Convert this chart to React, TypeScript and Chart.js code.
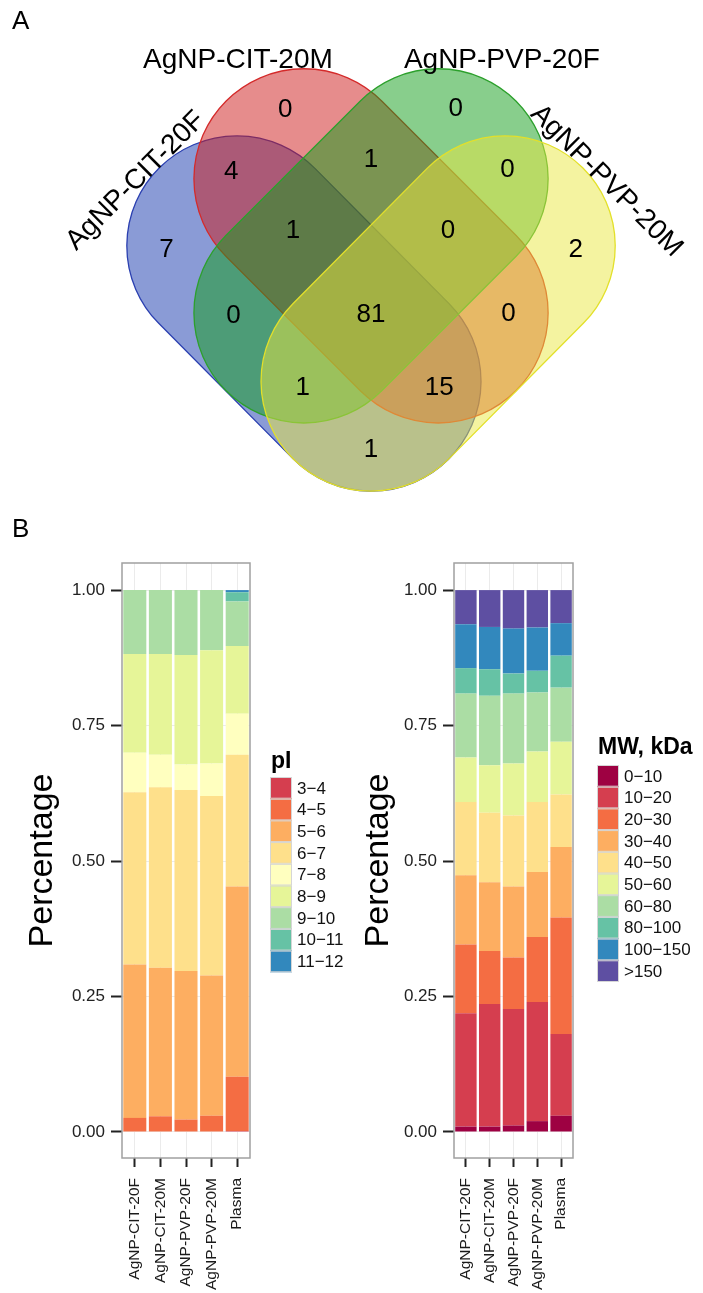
import React, { useEffect, useRef } from "react";
import { Chart, registerables } from "chart.js";
Chart.register(...registerables);

const FONT = '"Liberation Sans", Arial, Helvetica, sans-serif';

// ---------- Venn (panel A) ----------
const SET_NAMES = ["AgNP-CIT-20F", "AgNP-CIT-20M", "AgNP-PVP-20F", "AgNP-PVP-20M"];
const SET_FILLS = ["rgba(21,55,173,0.5)", "rgba(205,25,25,0.5)", "rgba(17,157,25,0.5)", "rgba(233,231,65,0.5)"];
const SET_LINES = ["#2a3fb0", "#d42a2a", "#2ca02c", "#e3e02a"];
// capsule spine end points (x1, y1, x2, y2), unit radius
const SET_SPINE_X1 = [-1.22, -0.61, 0.61, 1.22];
const SET_SPINE_Y1 = [0.31, 0.92, 0.92, 0.31];
const SET_SPINE_X2 = [0.0, 0.61, -0.61, 0.0];
const SET_SPINE_Y2 = [-0.92, -0.3, -0.3, -0.92];
const SET_RADIUS = 1;
const SET_LABEL_X = [-2.14, -1.21, 1.19, 2.14];
const SET_LABEL_Y = [0.9, 2.0, 2.0, 0.9];
const SET_LABEL_ROT = [-45, 0, 0, 45];

const VENN_COUNTS = [0, 0, 4, 1, 0, 7, 1, 0, 2, 0, 81, 0, 1, 15, 1];
const VENN_X = [-0.78, 0.77, -1.27, 0.0, 1.24, -1.86, -0.71, 0.7, 1.86, -1.25, 0.0, 1.25, -0.62, 0.62, 0.0];
const VENN_Y = [1.55, 1.56, 0.98, 1.09, 1.0, 0.27, 0.445, 0.445, 0.27, -0.33, -0.32, -0.31, -0.98, -0.98, -1.545];

// ---------- Bars (panel B) ----------
const SAMPLES = ["AgNP-CIT-20F", "AgNP-CIT-20M", "AgNP-PVP-20F", "AgNP-PVP-20M", "Plasma"];
const Y_TICKS = [0, 0.25, 0.5, 0.75, 1.0];

const PI_BINS = ["3−4", "4−5", "5−6", "6−7", "7−8", "8−9", "9−10", "10−11", "11−12"];
const PI_COLORS = ["#D53E4F", "#F46D43", "#FDAE61", "#FEE08B", "#FFFFBF", "#E6F598", "#ABDDA4", "#66C2A5", "#3288BD"];
const PI_3_4 = [0, 0, 0, 0, 0.002];
const PI_4_5 = [0.026, 0.029, 0.023, 0.03, 0.1];
const PI_5_6 = [0.283, 0.274, 0.274, 0.259, 0.351];
const PI_6_7 = [0.318, 0.333, 0.334, 0.331, 0.243];
const PI_7_8 = [0.073, 0.06, 0.047, 0.06, 0.076];
const PI_8_9 = [0.182, 0.186, 0.202, 0.209, 0.125];
const PI_9_10 = [0.118, 0.118, 0.12, 0.111, 0.082];
const PI_10_11 = [0, 0, 0, 0, 0.017];
const PI_11_12 = [0, 0, 0, 0, 0.004];
const PI_VALUES = [PI_3_4, PI_4_5, PI_5_6, PI_6_7, PI_7_8, PI_8_9, PI_9_10, PI_10_11, PI_11_12];

const MW_BINS = ["0−10", "10−20", "20−30", "30−40", "40−50", "50−60", "60−80", "80−100", "100−150", ">150"];
const MW_COLORS = ["#9E0142", "#D53E4F", "#F46D43", "#FDAE61", "#FEE08B", "#E6F598", "#ABDDA4", "#66C2A5", "#3288BD", "#5E4FA2"];
const MW_0_10 = [0.01, 0.01, 0.012, 0.02, 0.03];
const MW_10_20 = [0.209, 0.226, 0.215, 0.22, 0.151];
const MW_20_30 = [0.127, 0.098, 0.095, 0.12, 0.215];
const MW_30_40 = [0.128, 0.127, 0.131, 0.12, 0.13];
const MW_40_50 = [0.135, 0.128, 0.131, 0.129, 0.097];
const MW_50_60 = [0.082, 0.088, 0.096, 0.093, 0.097];
const MW_60_80 = [0.118, 0.128, 0.129, 0.109, 0.1];
const MW_80_100 = [0.047, 0.049, 0.037, 0.04, 0.059];
const MW_100_150 = [0.081, 0.078, 0.083, 0.08, 0.06];
const MW_GT150 = [0.063, 0.068, 0.071, 0.069, 0.061];
const MW_VALUES = [MW_0_10, MW_10_20, MW_20_30, MW_30_40, MW_40_50, MW_50_60, MW_60_80, MW_80_100, MW_100_150, MW_GT150];

function vennConfig(): any {
  const vennPlugin = {
    id: "vennShapes",
    beforeDatasetsDraw(chart: any) {
      const { ctx, scales } = chart;
      const sx = scales.x, sy = scales.y;
      const unit = sx.getPixelForValue(1) - sx.getPixelForValue(0);
      for (let i = 0; i < SET_NAMES.length; i++) {
        const ax = sx.getPixelForValue(SET_SPINE_X1[i]);
        const ay = sy.getPixelForValue(SET_SPINE_Y1[i]);
        const bx = sx.getPixelForValue(SET_SPINE_X2[i]);
        const by = sy.getPixelForValue(SET_SPINE_Y2[i]);
        const th = Math.atan2(by - ay, bx - ax);
        const r = SET_RADIUS * unit;
        ctx.save();
        ctx.beginPath();
        ctx.arc(bx, by, r, th - Math.PI / 2, th + Math.PI / 2);
        ctx.arc(ax, ay, r, th + Math.PI / 2, th + (3 * Math.PI) / 2);
        ctx.closePath();
        ctx.fillStyle = SET_FILLS[i];
        ctx.fill();
        ctx.lineWidth = 1.3;
        ctx.strokeStyle = SET_LINES[i];
        ctx.stroke();
        ctx.restore();
      }
    },
    afterDatasetsDraw(chart: any) {
      const { ctx, scales } = chart;
      const meta = chart.getDatasetMeta(0);
      ctx.save();
      ctx.fillStyle = "#000";
      ctx.textAlign = "center";
      ctx.textBaseline = "middle";
      ctx.font = `26px ${FONT}`;
      meta.data.forEach((el: any, i: number) => {
        ctx.fillText(String(VENN_COUNTS[i]), el.x, el.y);
      });
      ctx.font = `28px ${FONT}`;
      for (let i = 0; i < SET_NAMES.length; i++) {
        const x = scales.x.getPixelForValue(SET_LABEL_X[i]);
        const y = scales.y.getPixelForValue(SET_LABEL_Y[i]);
        ctx.save();
        ctx.translate(x, y);
        ctx.rotate((SET_LABEL_ROT[i] * Math.PI) / 180);
        ctx.fillText(SET_NAMES[i], 0, 0);
        ctx.restore();
      }
      ctx.restore();
    },
  };
  return {
    type: "scatter",
    data: {
      datasets: [
        {
          data: VENN_X.map((x, i) => ({ x, y: VENN_Y[i] })),
          pointRadius: 0,
          showLine: false,
        },
      ],
    },
    options: {
      animation: false,
      responsive: false,
      maintainAspectRatio: false,
      layout: { padding: 0 },
      plugins: { legend: { display: false }, tooltip: { enabled: false } },
      scales: {
        x: { type: "linear", display: false, min: -3.373, max: 3.018 },
        y: { type: "linear", display: false, min: -2.0, max: 2.545 },
      },
    },
    plugins: [vennPlugin],
  };
}

function barConfig(
  bins: string[],
  colors: string[],
  values: number[][],
  lay: any
): any {
  const panelPlugin = {
    id: "panelBorder",
    afterDatasetsDraw(chart: any) {
      const { ctx, chartArea: a } = chart;
      ctx.save();
      ctx.strokeStyle = "#a0a0a0";
      ctx.lineWidth = 1.5;
      ctx.strokeRect(a.left, a.top, a.right - a.left, a.bottom - a.top);
      ctx.restore();
    },
    afterDraw(chart: any) {
      const { ctx } = chart;
      ctx.save();
      ctx.fillStyle = "#000";
      ctx.font = `bold 23px ${FONT}`;
      ctx.textAlign = "left";
      ctx.textBaseline = "alphabetic";
      ctx.fillText(lay.legendTitle, lay.legX + 1, lay.legTitleY);
      const h = 21.7;
      ctx.font = `17px ${FONT}`;
      ctx.textBaseline = "middle";
      chart.data.datasets.forEach((ds: any, i: number) => {
        const top = lay.legY + i * h;
        ctx.fillStyle = ds.backgroundColor;
        ctx.fillRect(lay.legX, top, 22, h);
        ctx.strokeStyle = "#d6d6d6";
        ctx.lineWidth = 1;
        ctx.strokeRect(lay.legX + 0.5, top + 0.5, 21, h - 1);
        ctx.fillStyle = "#111";
        ctx.fillText(ds.label, lay.legX + 27, top + h / 2 + 1);
      });
      ctx.restore();
    },
  };
  return {
    type: "bar",
    data: {
      labels: SAMPLES,
      datasets: bins.map((b, i) => ({
        label: b,
        data: values[i],
        backgroundColor: colors[i],
        borderWidth: 0,
        barPercentage: 0.9,
        categoryPercentage: 1,
      })),
    },
    options: {
      animation: false,
      responsive: false,
      maintainAspectRatio: false,
      layout: { padding: { left: lay.padLeft, right: lay.padRight, top: lay.padTop, bottom: 0 } },
      plugins: { legend: { display: false }, tooltip: { enabled: false } },
      scales: {
        x: {
          stacked: true,
          grid: { offset: false, color: "#ebebeb", lineWidth: 1, tickColor: "#222", tickLength: 9, tickWidth: 2 },
          border: { display: false },
          ticks: {
            minRotation: 90,
            maxRotation: 90,
            autoSkip: false,
            padding: 11,
            color: "#1a1a1a",
            font: { family: FONT, size: 15.5 },
          },
          afterFit(s: any) {
            s.height = lay.xHeight;
          },
        },
        y: {
          stacked: true,
          min: -0.048,
          max: 1.05,
          afterBuildTicks(s: any) {
            s.ticks = Y_TICKS.map((v) => ({ value: v }));
          },
          grid: { color: "#ebebeb", lineWidth: 1, tickColor: "#222", tickLength: 11, tickWidth: 2 },
          border: { display: false },
          ticks: {
            padding: 6,
            color: "#222",
            font: { family: FONT, size: 17 },
            callback: (v: any) => Number(v).toFixed(2),
          },
          title: {
            display: true,
            text: "Percentage",
            color: "#000",
            font: { family: FONT, size: 34 },
            padding: { top: 3, bottom: 3 },
          },
          afterFit(s: any) {
            s.width = lay.yWidth;
          },
        },
      },
    },
    plugins: [panelPlugin],
  };
}

function ChartCanvas(props: { make: () => any; left: number; top: number; width: number; height: number }) {
  const ref = useRef<HTMLCanvasElement | null>(null);
  useEffect(() => {
    if (!ref.current) return;
    const c = new Chart(ref.current, props.make());
    return () => c.destroy();
  }, []);
  return (
    <canvas
      ref={ref}
      width={props.width}
      height={props.height}
      style={{ position: "absolute", left: props.left, top: props.top, width: props.width, height: props.height }}
    />
  );
}

export default function App() {
  const letter: any = {
    position: "absolute",
    fontFamily: FONT,
    fontSize: 26,
    lineHeight: "1",
    color: "#000",
  };
  return (
    <div style={{ position: "absolute", left: 0, top: 0, width: 703, height: 1293, background: "#fff", overflow: "hidden" }}>
      <ChartCanvas make={vennConfig} left={0} top={0} width={703} height={500} />
      <ChartCanvas
        make={() =>
          barConfig(PI_BINS, PI_COLORS, PI_VALUES, {
            padLeft: 19,
            padRight: 100,
            padTop: 23,
            yWidth: 103,
            xHeight: 135,
            legendTitle: "pI",
            legX: 270,
            legTitleY: 228,
            legY: 237,
          })
        }
        left={0}
        top={540}
        width={350}
        height={753}
      />
      <ChartCanvas
        make={() =>
          barConfig(MW_BINS, MW_COLORS, MW_VALUES, {
            padLeft: 15,
            padRight: 130,
            padTop: 23,
            yWidth: 99,
            xHeight: 135,
            legendTitle: "MW, kDa",
            legX: 257,
            legTitleY: 214,
            legY: 225,
          })
        }
        left={340}
        top={540}
        width={363}
        height={753}
      />
      <div style={{ ...letter, left: 12, top: 7 }}>A</div>
      <div style={{ ...letter, left: 12, top: 515 }}>B</div>
    </div>
  );
}
